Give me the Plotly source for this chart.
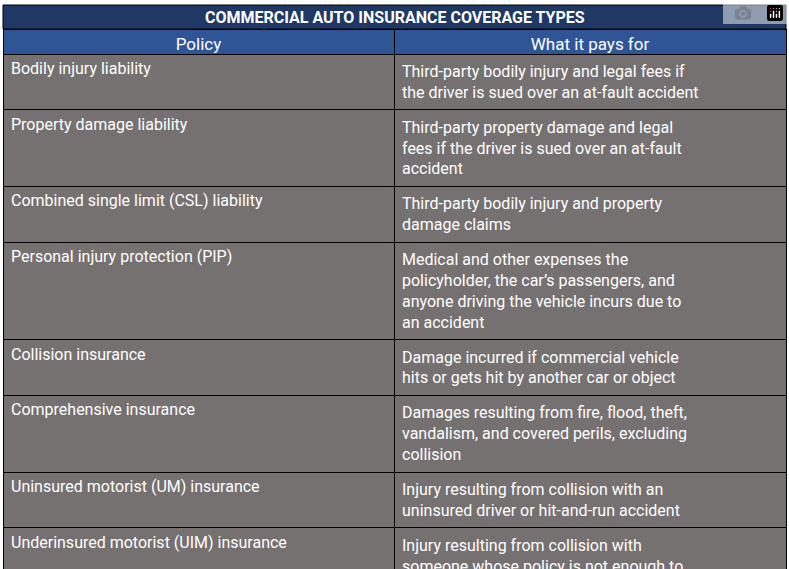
import plotly.graph_objects as go

title = "COMMERCIAL AUTO INSURANCE COVERAGE TYPES"
headers = ["Policy", "What it pays for"]
policies = [
    "Bodily injury liability",
    "Property damage liability",
    "Combined single limit (CSL) liability",
    "Personal injury protection (PIP)",
    "Collision insurance",
    "Comprehensive insurance",
    "Uninsured motorist (UM) insurance",
    "Underinsured motorist (UIM) insurance",
]
pays_for = [
    "Third-party bodily injury and legal fees if<br>the driver is sued over an at-fault accident",
    "Third-party property damage and legal<br>fees if the driver is sued over an at-fault<br>accident",
    "Third-party bodily injury and property<br>damage claims",
    "Medical and other expenses the<br>policyholder, the car\u2019s passengers, and<br>anyone driving the vehicle incurs due to<br>an accident",
    "Damage incurred if commercial vehicle<br>hits or gets hit by another car or object",
    "Damages resulting from fire, flood, theft,<br>vandalism, and covered perils, excluding<br>collision",
    "Injury resulting from collision with an<br>uninsured driver or hit-and-run accident",
    "Injury resulting from collision with<br>someone whose policy is not enough to<br>cover all the costs",
]

W, H = 789, 569
fig = go.Figure(go.Table(
    domain=dict(x=[3/W, 786/W], y=[0, 1-29/H]),
    columnwidth=[391, 392],
    header=dict(values=headers, fill_color="#2f5597", line_color="black",
                align="center", height=25,
                font=dict(family="Roboto", size=17, color="white")),
    cells=dict(values=[policies, pays_for], fill_color="#767171", line_color="black",
               align="left", height=24,
               font=dict(family="Roboto", size=16, color="white")),
))
fig.add_shape(type="rect", xref="paper", yref="paper", x0=3/W, x1=786/W,
              y0=1-29/H, y1=1-5/H, fillcolor="#1f3864", line=dict(color="black", width=1))
fig.add_annotation(text="<b>" + title + "</b>", xref="paper", yref="paper",
                   x=0.5, y=1-17/H, xanchor="center", yanchor="middle", showarrow=False,
                   font=dict(family="Roboto", size=16, color="white"))
fig.update_layout(width=W, height=H, margin=dict(l=0, r=0, t=0, b=0),
                  paper_bgcolor="white")
fig.write_html("out.html", post_script="document.body.style.margin='0';document.body.style.overflow='hidden';")
